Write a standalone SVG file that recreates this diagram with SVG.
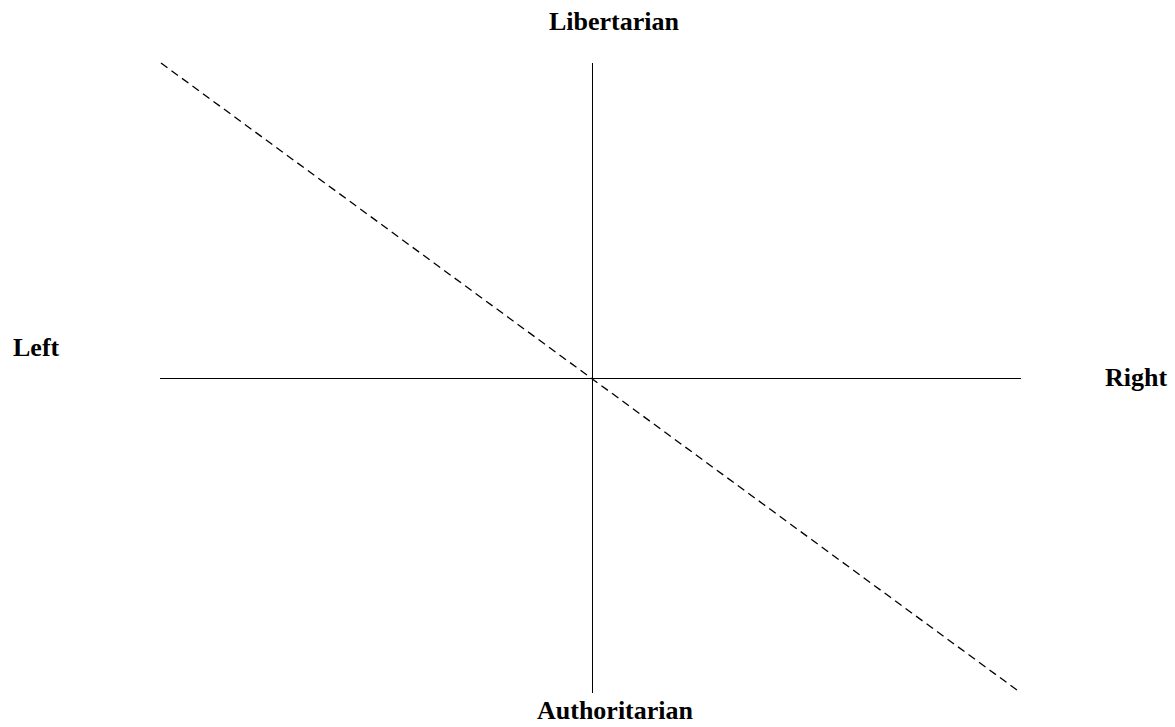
<svg xmlns="http://www.w3.org/2000/svg" width="1175" height="727" viewBox="0 0 1175 727">
<style>
.lbl{font-family:"Liberation Serif","Times New Roman",serif;font-weight:bold;font-size:26px;fill:#000}
.axis{stroke:#000;stroke-width:1;fill:none}
.diag{stroke:#000;stroke-width:1.3;fill:none;stroke-dasharray:8,5}
</style>
<rect width="1175" height="727" fill="#fff"/>
<g id="connectors">
<line class="axis" x1="592.5" y1="63" x2="592.5" y2="693"/>
<line class="axis" x1="160" y1="378.5" x2="1021" y2="378.5"/>
<line class="diag" x1="161" y1="63" x2="1021" y2="693"/>
</g>
<g id="libertarian"><text class="lbl" x="614" y="30" text-anchor="middle">Libertarian</text></g>
<g id="authoritarian"><text class="lbl" x="615" y="719" text-anchor="middle">Authoritarian</text></g>
<g id="left"><text class="lbl" x="13" y="356">Left</text></g>
<g id="right"><text class="lbl" x="1105" y="386">Right</text></g>
</svg>
